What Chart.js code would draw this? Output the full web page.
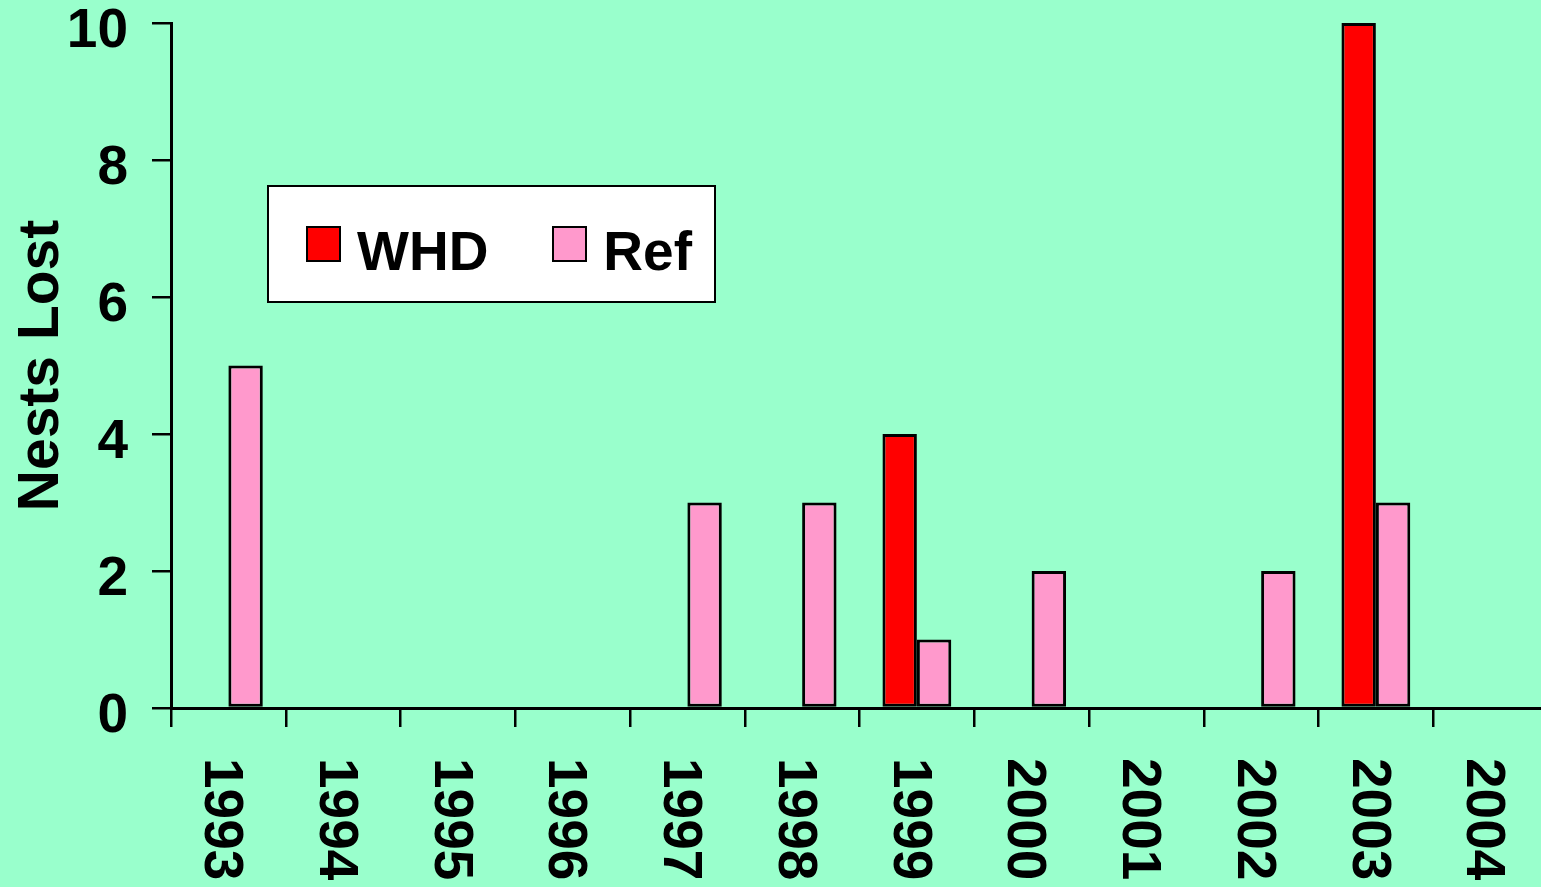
<!DOCTYPE html>
<html>
<head>
<meta charset="utf-8">
<script src="https://cdn.jsdelivr.net/npm/chart.js@4"></script>
<style>
  html, body { margin: 0; padding: 0; background: #99FFCC; overflow: hidden; }
  #wrap { position: relative; width: 1548px; height: 887px; }
  #legend {
    position: absolute; left: 267px; top: 185px; width: 445px; height: 114px;
    background: #fff; border: 2px solid #000;
    display: flex; align-items: center; box-sizing: content-box;
    font: bold 55px "Liberation Sans", Arial, sans-serif; line-height: 1;
  }
  .item { display: flex; align-items: center; }
  .box { width: 31px; height: 32px; border: 2px solid #000; }
  .lbl { margin-left: 16px; position: relative; top: 7px; }
</style>
</head>
<body>
<div id="wrap">
  <canvas id="chart"></canvas>
  <div id="legend"></div>
</div>
<script>
// values, null = no bar
const years = ["1993", "1994", "1995", "1996", "1997", "1998", "1999", "2000", "2001", "2002", "2003", "2004"];
const whd = [null, null, null, null, null, null, 4, null, null, null, 10, null];
const ref = [5, null, null, null, 3, 3, 1, 2, null, 2, 3, null];
const yTicks = [0, 2, 4, 6, 8, 10];

const FONT = '"Liberation Sans", Arial, sans-serif';

// x labels read top-to-bottom, Chart.js can't rotate that way so draw them here
const xLabels = {
  id: "xLabels",
  afterDraw(chart) {
    const { ctx, chartArea } = chart;
    const x = chart.scales.x;
    ctx.save();
    ctx.font = "bold 55px " + FONT;
    ctx.fillStyle = "#000";
    ctx.textAlign = "left";
    ctx.textBaseline = "middle";
    years.forEach((yr, i) => {
      ctx.save();
      ctx.translate(x.getPixelForValue(i) - 8, chartArea.bottom + 50);
      ctx.rotate(Math.PI / 2);
      ctx.fillText(yr, 0, 0);
      ctx.restore();
    });
    ctx.restore();
  }
};

const chart = new Chart(document.getElementById("chart"), {
  type: "bar",
  data: {
    labels: years,
    datasets: [
      { label: "WHD", data: whd, backgroundColor: "#FF0000" },
      { label: "Ref", data: ref, backgroundColor: "#FF99CC" }
    ]
  },
  options: {
    responsive: true,
    maintainAspectRatio: false,
    animation: false,
    layout: { padding: { top: 23, left: 0, right: 0, bottom: 0 } },
    datasets: {
      bar: {
        borderColor: "#000",
        borderWidth: 3,
        borderSkipped: false,
        categoryPercentage: 0.6,
        barPercentage: 1
      }
    },
    plugins: { legend: { display: false }, tooltip: { enabled: false } },
    scales: {
      x: {
        offset: true,
        grid: { offset: true, drawOnChartArea: false, drawTicks: true, tickLength: 19, color: "#000", lineWidth: 2.5 },
        border: { display: true, color: "#000", width: 3 },
        ticks: { display: false },
        afterFit(s) { s.height = 179; s.paddingLeft = 0; s.paddingRight = 0; }
      },
      y: {
        min: 0,
        max: 10,
        afterBuildTicks(s) { s.ticks = yTicks.map(v => ({ value: v })); },
        grid: { drawOnChartArea: false, drawTicks: true, tickLength: 19, color: "#000", lineWidth: 2.5 },
        border: { display: true, color: "#000", width: 3 },
        ticks: { color: "#000", font: { family: FONT, size: 55, weight: "bold" }, padding: 24, labelOffset: 9 },
        title: {
          display: true,
          text: "Nests Lost",
          color: "#000",
          font: { family: FONT, size: 57, weight: "bold", lineHeight: 1 },
          padding: { top: 14, bottom: 0 }
        },
        afterFit(s) { s.width = 171; s.paddingTop = 0; s.paddingBottom = 0; }
      }
    }
  },
  plugins: [xLabels]
});

// legend box built from the datasets
const legend = document.getElementById("legend");
chart.data.datasets.forEach((ds, i) => {
  const item = document.createElement("div");
  item.className = "item";
  item.style.marginLeft = i === 0 ? "37px" : "64px";
  item.innerHTML = `<div class="box" style="background:${ds.backgroundColor}"></div><span class="lbl">${ds.label}</span>`;
  legend.appendChild(item);
});
</script>
</body>
</html>
